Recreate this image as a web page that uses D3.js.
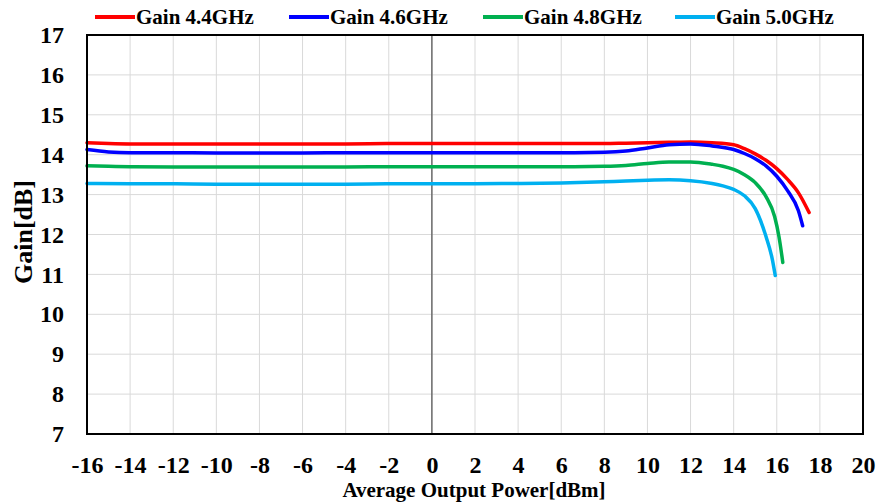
<!DOCTYPE html>
<html><head><meta charset="utf-8">
<script src="https://cdn.jsdelivr.net/npm/d3@7"></script>
<style>body{margin:0;background:#fff}svg{display:block}text{font-family:"Liberation Serif","Times New Roman",serif;font-weight:bold;fill:#000}</style>
</head><body><svg id="c" width="877" height="503"></svg>
<script>
const seriesNames = ["Gain 4.4GHz","Gain 4.6GHz","Gain 4.8GHz","Gain 5.0GHz"];
const seriesColors = ["#ff0000","#0000ff","#00b050","#00b0f0"];
const xTicks = [-16,-14,-12,-10,-8,-6,-4,-2,0,2,4,6,8,10,12,14,16,18,20];
const yTicks = [7,8,9,10,11,12,13,14,15,16,17];

const powerRed   = [-16,-15,-14,-12,-10,-8,-6,-4,-2,0,2,4,6,8,9,10,11,12,13,14,14.5,15,15.5,16,16.5,17,17.5];
const gainRed    = [14.30,14.28,14.27,14.27,14.27,14.27,14.27,14.27,14.28,14.28,14.28,14.28,14.28,14.28,14.29,14.30,14.31,14.32,14.30,14.25,14.15,14.02,13.86,13.65,13.38,13.05,12.55];
const powerBlue  = [-16,-15,-14,-12,-10,-8,-6,-4,-2,0,2,4,6,8,9,10,11,12,13,14,14.5,15,15.5,16,16.5,17,17.2];
const gainBlue   = [14.13,14.07,14.05,14.05,14.04,14.04,14.04,14.05,14.05,14.05,14.05,14.05,14.05,14.06,14.09,14.17,14.25,14.27,14.22,14.13,14.03,13.9,13.72,13.46,13.1,12.6,12.22];
const powerGreen = [-16,-15,-14,-12,-10,-8,-6,-4,-2,0,2,4,6,8,9,10,11,12,13,13.5,14,14.5,15,15.5,15.9,16.1,16.28];
const gainGreen  = [13.72,13.71,13.70,13.69,13.69,13.69,13.69,13.69,13.70,13.70,13.70,13.70,13.70,13.71,13.73,13.78,13.82,13.82,13.76,13.71,13.63,13.5,13.3,12.95,12.45,11.95,11.3];
const powerCyan  = [-16,-14,-12,-10,-8,-6,-4,-2,0,2,4,6,8,9,10,11,12,13,13.5,14,14.5,15,15.5,15.8,15.93];
const gainCyan   = [13.28,13.27,13.27,13.26,13.26,13.26,13.26,13.27,13.27,13.27,13.28,13.29,13.32,13.34,13.36,13.37,13.35,13.28,13.22,13.13,12.97,12.65,11.95,11.36,10.97];

const powers = [powerRed, powerBlue, powerGreen, powerCyan];
const gains = [gainRed, gainBlue, gainGreen, gainCyan];

const svg = d3.select("#c");
const L = 87, R = 863, T = 35, B = 434;
const x = d3.scaleLinear().domain([-16,20]).range([L,R]);
const y = d3.scaleLinear().domain([7,17]).range([B,T]);

// grid
svg.append("g").selectAll("line").data(xTicks.slice(1,-1)).join("line")
  .attr("x1",d=>x(d)).attr("x2",d=>x(d)).attr("y1",T).attr("y2",B)
  .attr("stroke","#d9d9d9").attr("stroke-width",1);
svg.append("g").selectAll("line").data(yTicks.slice(1,-1)).join("line")
  .attr("x1",L).attr("x2",R).attr("y1",d=>y(d)).attr("y2",d=>y(d))
  .attr("stroke","#d9d9d9").attr("stroke-width",1);
// zero line
svg.append("line").attr("x1",x(0)).attr("x2",x(0)).attr("y1",T).attr("y2",B)
  .attr("stroke","#595959").attr("stroke-width",1.3);

// axes tick labels
const fmt = d => String(d);
const xAxis = d3.axisBottom(x).tickValues(xTicks).tickSize(0).tickPadding(22).tickFormat(fmt);
const gx = svg.append("g").attr("transform",`translate(0,${B})`).call(xAxis);
gx.select(".domain").remove();
gx.selectAll("text").style("font-size","24px").style("font-family","'Liberation Serif'").style("font-weight","bold");
const yAxis = d3.axisLeft(y).tickValues(yTicks).tickSize(0).tickPadding(23).tickFormat(fmt);
const gy = svg.append("g").attr("transform",`translate(${L},0)`).call(yAxis);
gy.select(".domain").remove();
gy.selectAll("text").style("font-size","24px").style("font-family","'Liberation Serif'").style("font-weight","bold");

// lines
const line = d3.line().x(d=>x(d[0])).y(d=>y(d[1])).curve(d3.curveMonotoneX);
seriesNames.forEach((n,i)=>{
  const pts = powers[i].map((p,j)=>[p,gains[i][j]]);
  svg.append("path").datum(pts).attr("d",line).attr("fill","none")
    .attr("stroke",seriesColors[i]).attr("stroke-width",3.5).attr("stroke-linecap","round");
});

// border
svg.append("rect").attr("x",L).attr("y",T).attr("width",R-L).attr("height",B-T)
  .attr("fill","none").attr("stroke","#000").attr("stroke-width",2);

// legend
const legX = [95,289,483,675];
seriesNames.forEach((n,i)=>{
  svg.append("line").attr("x1",legX[i]).attr("x2",legX[i]+40).attr("y1",17).attr("y2",17)
    .attr("stroke",seriesColors[i]).attr("stroke-width",4);
  svg.append("text").attr("x",legX[i]+41).attr("y",24).style("font-size","21px").text(n);
});

// titles
svg.append("text").attr("x",474).attr("y",497).attr("text-anchor","middle").style("font-size","21px").text("Average Output Power[dBm]");
svg.append("text").attr("transform","translate(32,232) rotate(-90)").attr("text-anchor","middle").style("font-size","26px").text("Gain[dB]");
</script></body></html>
